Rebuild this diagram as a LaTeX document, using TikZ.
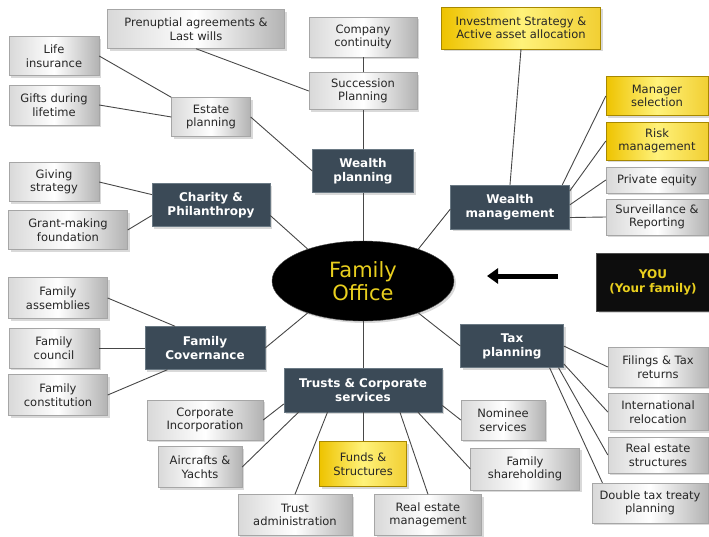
\documentclass[tikz,border=0pt]{standalone}
\usepackage{fontspec}
\setmainfont{DejaVu Sans}
\usetikzlibrary{shapes.geometric,shadows,arrows.meta}

\definecolor{slate}{HTML}{3B4A57}
\definecolor{slateedge}{HTML}{6A7984}
\definecolor{gold}{HTML}{EEC300}
\definecolor{paleyellow}{HTML}{FFF27A}
\definecolor{officetext}{HTML}{E9CF1E}
\definecolor{linkgray}{HTML}{474747}

\begin{document}
\begin{tikzpicture}[x=1pt,y=-1pt,
  wh/.style 2 args={minimum width=#1pt, minimum height=#2pt},
  box/.style={rectangle, align=center, inner sep=1pt, text=black!85,
    font=\fontsize{11.5}{13.5}\selectfont,
    drop shadow={opacity=0.3, shadow xshift=2pt, shadow yshift=-2pt}},
  plain/.style={box, draw=gray!70, left color=gray!30, right color=gray!60, middle color=white},
  goldbox/.style={box, draw=gold!70!black, left color=gold, right color=gold!80, middle color=paleyellow},
  topic/.style={box, fill=slate, draw=slateedge, text=white,
    font=\bfseries\fontsize{12}{14}\selectfont},
  client/.style={box, fill=black!95, draw=black!70, text=officetext,
    font=\bfseries\fontsize{12}{14}\selectfont},
  link/.style={draw=linkgray, line width=0.9pt}]

\useasboundingbox (0,0) rectangle (709,536);

% centre
\node[ellipse, fill=black, draw=black!70, inner sep=0, minimum width=182pt, minimum height=80pt,
  align=center, text=officetext, font=\fontsize{21}{23}\selectfont,
  drop shadow={opacity=0.3, shadow xshift=2pt, shadow yshift=-2pt}] (office) at (363,281) {Family\\Office};

% main topics
\node[topic, wh={101}{43}] (wplan) at (363,171) {Wealth\\planning};
\node[topic, wh={118}{43}] (charity) at (211,205) {Charity \&\\Philanthropy};
\node[topic, wh={119}{44}] (wmgmt) at (510,207) {Wealth\\management};
\node[topic, wh={120}{43}] (govern) at (205,348) {Family\\Covernance};
\node[topic, wh={158}{44}] (trusts) at (363,390) {Trusts \& Corporate\\services};
\node[topic, wh={103}{43}] (tax) at (512,346) {Tax\\planning};

% wealth planning
\node[plain, wh={108}{37}] (succession) at (363,91) {Succession\\Planning};
\node[plain, wh={108}{40}] (company) at (363,37) {Company\\continuity};
\node[plain, wh={177}{39}] (prenup) at (196,29) {Prenuptial agreements \&\\Last wills};
\node[plain, wh={79}{39}] (estate) at (211,117) {Estate\\planning};
\node[plain, wh={90}{39}] (life) at (54,56) {Life\\insurance};
\node[plain, wh={90}{40}] (gifts) at (54,105) {Gifts during\\lifetime};

% charity
\node[plain, wh={90}{39}] (giving) at (54,182) {Giving\\strategy};
\node[plain, wh={119}{39}] (grant) at (68,230) {Grant-making\\foundation};

% wealth management
\node[goldbox, wh={159}{42}] (invest) at (521,28) {Investment Strategy \&\\Active asset allocation};
\node[goldbox, wh={102}{39}] (manager) at (657,96) {Manager\\selection};
\node[goldbox, wh={102}{38}] (risk) at (657,141) {Risk\\management};
\node[plain, wh={102}{26}] (private) at (657,180) {Private equity};
\node[plain, wh={102}{36}] (surveil) at (657,217) {Surveillance \&\\Reporting};

% client
\node[client, wh={113}{58}] (you) at (653,282) {YOU\\(Your family)};
\coordinate (arrowtail) at (558,276);
\coordinate (arrowhead) at (487,276);
\draw[line width=5pt, -{Triangle[length=11pt, width=15pt]}] (arrowtail) -- (arrowhead);

% governance
\node[plain, wh={99}{41}] (assemb) at (58,298) {Family\\assemblies};
\node[plain, wh={90}{40}] (council) at (54,348) {Family\\council};
\node[plain, wh={99}{41}] (constit) at (58,395) {Family\\constitution};

% trusts
\node[plain, wh={116}{40}] (corpinc) at (205,420) {Corporate\\Incorporation};
\node[plain, wh={84}{41}] (aircraft) at (200,467) {Aircrafts \&\\Yachts};
\node[plain, wh={114}{41}] (trustadm) at (295,515) {Trust\\administration};
\node[goldbox, wh={87}{45}] (funds) at (363,464) {Funds \&\\Structures};
\node[plain, wh={107}{41}] (remgmt) at (428,515) {Real estate\\management};
\node[plain, wh={109}{42}] (famshare) at (525,469) {Family\\shareholding};
\node[plain, wh={84}{40}] (nominee) at (503,420) {Nominee\\services};

% tax
\node[plain, wh={100}{40}] (filings) at (658,367) {Filings \& Tax\\returns};
\node[plain, wh={100}{37}] (intl) at (658,412) {International\\relocation};
\node[plain, wh={100}{36}] (restruct) at (658,455) {Real estate\\structures};
\node[plain, wh={116}{40}] (double) at (650,503) {Double tax treaty\\planning};

% links from the centre
\draw[link] (office.north) -- (wplan.south);
\draw[link] (office.150) -- (charity.-10);
\draw[link] (office.30) -- (wmgmt.182);
\draw[link] (office.210) -- (govern.east);
\draw[link] (office.south) -- (trusts.north);
\draw[link] (office.-30) -- (tax.west);

% links of each topic
\draw[link] (wplan.north) -- (succession.south);
\draw[link] (succession.north) -- (company.south);
\draw[link] (prenup.south) -- (succession.west);
\draw[link] (wplan.west) -- (estate.east);
\draw[link] (estate.north west) -- (life.east);
\draw[link] (estate.west) -- (gifts.east);

\draw[link] (charity.170) -- (giving.east);
\draw[link] (charity.190) -- (grant.east);

\draw[link] (wmgmt.north) -- (invest.south);
\draw[link] (wmgmt.23) -- (manager.west);
\draw[link] (wmgmt.15) -- (risk.west);
\draw[link] (wmgmt.2) -- (private.west);
\draw[link] (wmgmt.-10) -- (surveil.west);

\draw[link] (govern.144) -- (assemb.east);
\draw[link] (govern.west) -- (council.east);
\draw[link] (govern.210) -- (constit.east);

\draw[link] (trusts.190) -- (corpinc.east);
\draw[link] (trusts.199) -- (aircraft.east);
\draw[link] (trusts.212) -- (trustadm.north);
\draw[link] (trusts.south) -- (funds.north);
\draw[link] (trusts.-31) -- (remgmt.north);
\draw[link] (trusts.-22) -- (famshare.west);
\draw[link] (trusts.-11) -- (nominee.west);

\draw[link] (tax.east) -- (filings.west);
\draw[link] (tax.-19) -- (intl.west);
\draw[link] (tax.-25) -- (restruct.west);
\draw[link] (tax.-30) -- (double.157);
\end{tikzpicture}
\end{document}
